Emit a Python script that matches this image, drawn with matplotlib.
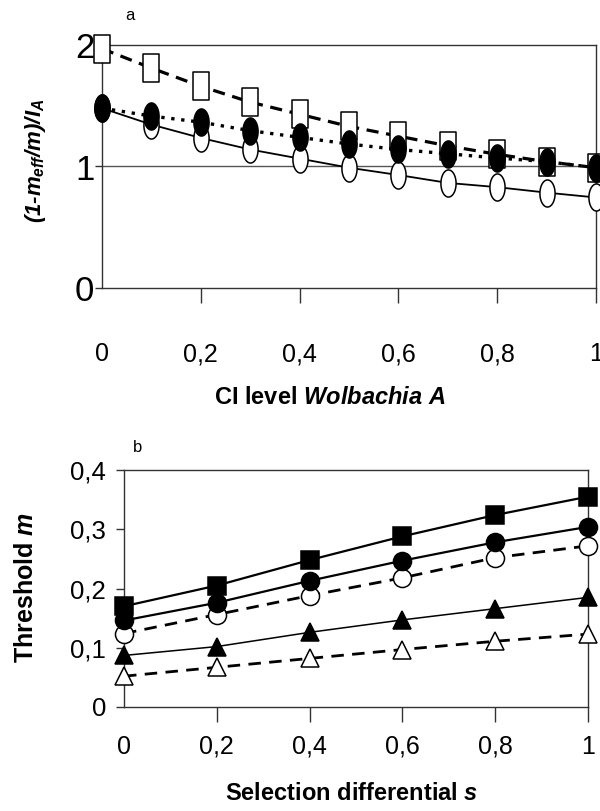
import numpy as np
import matplotlib
matplotlib.use("Agg")
import matplotlib.pyplot as plt
from matplotlib.path import Path

# ---------------- data ----------------
ci_level = [0, 0.1, 0.2, 0.3, 0.4, 0.5, 0.6, 0.7, 0.8, 0.9, 1.0]
a_open_squares = [1.97, 1.81, 1.66, 1.53, 1.43, 1.33, 1.25, 1.17, 1.10, 1.04, 0.99]
a_filled_circles = [1.48, 1.415, 1.365, 1.295, 1.24, 1.185, 1.14, 1.105, 1.07, 1.04, 0.99]
a_open_circles = [1.48, 1.345, 1.235, 1.14, 1.065, 0.99, 0.93, 0.865, 0.83, 0.785, 0.745]
a_xticks = [0, 0.2, 0.4, 0.6, 0.8, 1.0]
a_xticklabels = ["0", "0,2", "0,4", "0,6", "0,8", "1"]
a_yticks = [0, 1, 2]
a_yticklabels = ["0", "1", "2"]

sel_diff = [0, 0.2, 0.4, 0.6, 0.8, 1.0]
b_filled_squares = [0.170, 0.205, 0.248, 0.288, 0.324, 0.355]
b_filled_circles = [0.146, 0.176, 0.213, 0.247, 0.278, 0.304]
b_open_circles = [0.124, 0.156, 0.188, 0.218, 0.252, 0.272]
b_filled_triangles = [0.087, 0.102, 0.126, 0.147, 0.166, 0.185]
b_open_triangles = [0.052, 0.067, 0.082, 0.097, 0.111, 0.123]
b_xticks = [0, 0.2, 0.4, 0.6, 0.8, 1.0]
b_xticklabels = ["0", "0,2", "0,4", "0,6", "0,8", "1"]
b_yticks = [0, 0.1, 0.2, 0.3, 0.4]
b_yticklabels = ["0", "0,1", "0,2", "0,3", "0,4"]

# ---------------- style ----------------
plt.rcParams["font.family"] = ["Liberation Sans", "DejaVu Sans"]
plt.rcParams["mathtext.fontset"] = "custom"
plt.rcParams["mathtext.rm"] = "Liberation Sans:bold:italic"
plt.rcParams["mathtext.it"] = "Liberation Sans:bold:italic"
plt.rcParams["mathtext.bf"] = "Liberation Sans:bold:italic"

theta = np.linspace(0, 2 * np.pi, 80)
oval = Path(np.column_stack([0.56 * np.cos(theta), np.sin(theta)]), closed=True)
rect = Path([(-0.6, -1), (0.6, -1), (0.6, 1), (-0.6, 1), (-0.6, -1)], closed=True)

fig = plt.figure(figsize=(6.0, 8.11), dpi=100)
W, H = 600.0, 811.0

def axbox(l, r, t, b):
    return [l / W, 1 - b / H, (r - l) / W, (b - t) / H]

spine_col = "#333333"

# ---------------- panel a ----------------
ax = fig.add_axes(axbox(102, 596, 45, 288))
ax.set_xlim(0, 1)
ax.set_ylim(0, 2)
ax.axhline(1, color="#555555", lw=1.0, zorder=1)
ax.plot(ci_level, a_open_circles, color="black", lw=1.3, ls="-",
        marker=oval, markersize=19.5, mfc="white", mec="black", mew=1.1,
        zorder=3, clip_on=False)
ax.plot(ci_level, a_open_squares, color="black", lw=2.3, ls=(0, (3.8, 2.4)),
        marker=rect, markersize=19.5, mfc="white", mec="black", mew=1.1,
        zorder=4, clip_on=False)
ax.plot(ci_level, a_filled_circles, color="black", lw=2.4, ls=(0, (1, 2.0)),
        marker=oval, markersize=19.5, mfc="black", mec="black", mew=1.1,
        zorder=5, clip_on=False)
ax.set_xticks(a_xticks)
ax.set_xticklabels(a_xticklabels, fontsize=18)
ax.set_yticks(a_yticks)
ax.set_yticklabels(a_yticklabels, fontsize=25)
ax.tick_params(axis="x", direction="out", length=11, width=1, pad=28, color=spine_col)
ax.tick_params(axis="y", direction="out", length=5, width=1, pad=0.5, color=spine_col)
ax.xaxis.get_major_ticks()[0].tick1line.set_visible(False)
for s in ax.spines.values():
    s.set_color(spine_col)
    s.set_linewidth(1.0)

fig.text(130 / W, 1 - 15 / H, "a", fontsize=12, ha="center", va="center")
fig.text(35 / W, 1 - 161 / H, r"$(1\text{-}m_{eff}/m)/I_A$", fontsize=16,
         rotation=90, ha="center", va="center")
fig.text(330 / W, 1 - 398 / H, r"CI level $Wolbachia\ A$", fontsize=17,
         fontweight="bold", ha="center", va="center")

# ---------------- panel b ----------------
bx = fig.add_axes(axbox(124, 588, 470, 707))
bx.set_xlim(0, 1)
bx.set_ylim(0, 0.4)
bx.plot(sel_diff, b_open_triangles, color="black", lw=2.0, ls=(0, (4.5, 3)),
        marker="^", markersize=13, mfc="white", mec="black", mew=1.1,
        zorder=3, clip_on=False)
bx.plot(sel_diff, b_filled_triangles, color="black", lw=1.1, ls="-",
        marker="^", markersize=13, mfc="black", mec="black", mew=1.1,
        zorder=4, clip_on=False)
bx.plot(sel_diff, b_open_circles, color="black", lw=2.0, ls=(0, (4.5, 3)),
        marker="o", markersize=13, mfc="white", mec="black", mew=1.1,
        zorder=5, clip_on=False)
bx.plot(sel_diff, b_filled_squares, color="black", lw=1.6, ls="-",
        marker="s", markersize=13, mfc="black", mec="black", mew=1.1,
        zorder=6, clip_on=False)
bx.plot(sel_diff, b_filled_circles, color="black", lw=1.6, ls="-",
        marker="o", markersize=13, mfc="black", mec="black", mew=1.1,
        zorder=7, clip_on=False)
bx.set_xticks(b_xticks)
bx.set_xticklabels(b_xticklabels, fontsize=18)
bx.set_yticks(b_yticks)
bx.set_yticklabels(b_yticklabels, fontsize=18.5)
bx.tick_params(axis="x", direction="out", length=11, width=1, pad=9, color=spine_col)
bx.tick_params(axis="y", direction="out", length=6, width=1, pad=7, color=spine_col)
bx.xaxis.get_major_ticks()[0].tick1line.set_visible(False)
for s in bx.spines.values():
    s.set_color(spine_col)
    s.set_linewidth(1.0)

fig.text(138 / W, 1 - 448 / H, "b", fontsize=12, ha="center", va="center")
fig.text(26 / W, 1 - 588 / H, r"Threshold $m$", fontsize=18, fontweight="bold",
         rotation=90, ha="center", va="center")
fig.text(352 / W, 1 - 793 / H, r"Selection differential $s$", fontsize=17,
         fontweight="bold", ha="center", va="center")

fig.savefig("out.png", dpi=100)
